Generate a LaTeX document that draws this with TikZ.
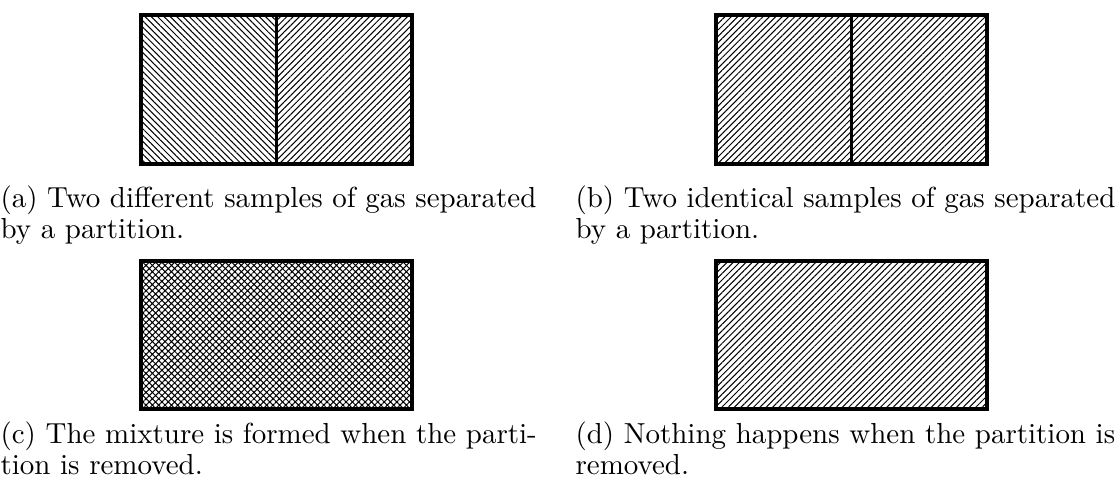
\documentclass[tikz,border=0pt]{standalone}
\usetikzlibrary{patterns.meta}
\begin{document}
\begin{tikzpicture}[x=0.3452pt,y=-0.3452pt,
  gasbox/.style={line width=1.55pt},
  partition/.style={line width=0.7pt},
  nelines/.style={pattern={Lines[angle=45,distance=1.55pt,line width=0.35pt]}},
  nwlines/.style={pattern={Lines[angle=-45,distance=1.55pt,line width=0.35pt]}},
  xlines/.style={pattern={Hatch[angle=45,distance=1.55pt,line width=0.35pt]}},
  caption/.style={anchor=north west,inner sep=0pt,align=left,font=\fontsize{10}{10.6}\selectfont}]
\useasboundingbox (0,0) rectangle (1120,494);
% (a)
\fill[nwlines] (141,15) rectangle (276.5,164);
\fill[nelines] (276.5,15) rectangle (412,164);
\draw[partition] (276.5,15) -- (276.5,164);
\draw[gasbox] (141,15) rectangle (412,164);
\node[caption] (capa) at (0,185) {(a) Two different samples of gas separated\\by a partition.};
% (b)
\fill[nelines] (716,15) rectangle (987,164);
\draw[partition] (851.5,15) -- (851.5,164);
\draw[gasbox] (716,15) rectangle (987,164);
\node[caption] (capb) at (575,185) {(b) Two identical samples of gas separated\\by a partition.};
% (c)
\fill[xlines] (141,261) rectangle (412,409);
\draw[gasbox] (141,261) rectangle (412,409);
\node[caption] (capc) at (0,421) {(c) The mixture is formed when the parti-\\tion is removed.};
% (d)
\fill[nelines] (716,261) rectangle (987,409);
\draw[gasbox] (716,261) rectangle (987,409);
\node[caption] (capd) at (575,421) {(d) Nothing happens when the partition is\\removed.};
\end{tikzpicture}
\end{document}
